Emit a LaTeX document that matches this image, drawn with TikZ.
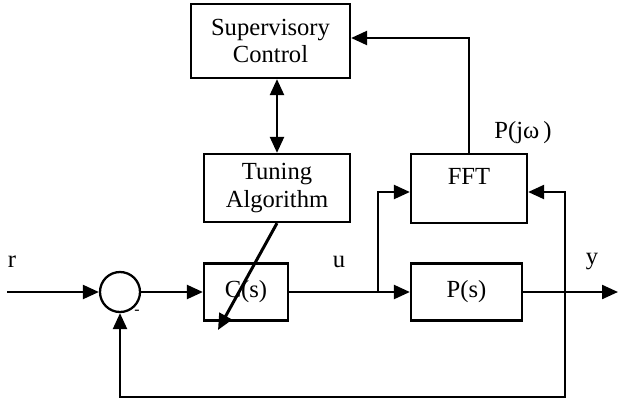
\documentclass[tikz,border=0pt]{standalone}
\usepackage{fontspec}
\setmainfont{Liberation Serif}
\usetikzlibrary{shapes,arrows.meta,positioning,calc}

\tikzset{
  block/.style={draw, line width=1.3pt, align=center, inner sep=2pt},
  tip/.tip={Triangle[length=0.32cm,width=0.28cm]},
  sig/.style={line width=1.3pt, -tip},
  sumnode/.style={circle, draw, line width=1.3pt, minimum size=0.8cm, inner sep=0pt}
}

\begin{document}
\begin{tikzpicture}[font=\fontsize{14}{15.5}\selectfont]
    \useasboundingbox (0,0) rectangle (12.36,8.04);

    % Blocks
    \node[block, minimum width=3.18cm, minimum height=1.48cm] (sup) at (5.41,7.22) {Supervisory\\Control};
    \node[block, minimum width=2.92cm, minimum height=1.36cm] (tune) at (5.54,4.28) {Tuning\\Algorithm};
    \node[block, minimum width=2.32cm, minimum height=1.38cm] (fft) at (9.38,4.27) {};
    \node (fftlab) at ([yshift=-0.48cm]fft.north) {FFT};
    \node[block, minimum width=1.68cm, minimum height=1.14cm] (cs) at (4.92,2.20) {C(s)};
    \node[block, minimum width=2.22cm, minimum height=1.14cm] (ps) at (9.33,2.20) {P(s)};
    \node[sumnode] (sum) at (2.40,2.20) {};

    % Points
    \coordinate (rin) at (0.14,2.20);
    \coordinate (yout) at (12.36,2.20);
    \coordinate (usplit) at (7.56,2.20);
    \coordinate (ysplit) at (11.30,2.20);
    \coordinate (adj) at (4.36,1.44);

    % Signals
    \draw[sig] (rin) -- (sum);
    \draw[sig] (sum) -- (cs);
    \draw[sig] (cs) -- (ps);
    \draw[sig] (ps) -- (yout);
    \draw[sig] (usplit) |- (fft.west |- 0,4.20);
    \draw[sig] (ysplit) |- (fft.east |- 0,4.20);
    \draw[sig] (ysplit) |- (sum.south |- 0,0.10) -- (sum.south);
    \draw[sig] (fft.north) |- (sup.east |- 0,7.28);
    \draw[sig, tip-tip] (tune.north) -- (tune.north |- sup.south);
    \draw[sig, line width=1.7pt] (tune.south) -- (adj);

    % Labels
    \node (rlab) at (0.24,2.80) {r};
    \node (ulab) at (6.78,2.80) {u};
    \node (ylab) at (11.84,2.80) {y};
    \node (pjw) at (10.46,5.38) {P(jω\,)};
    \node[font=\small] (minus) at (2.74,1.80) {-};
\end{tikzpicture}
\end{document}
